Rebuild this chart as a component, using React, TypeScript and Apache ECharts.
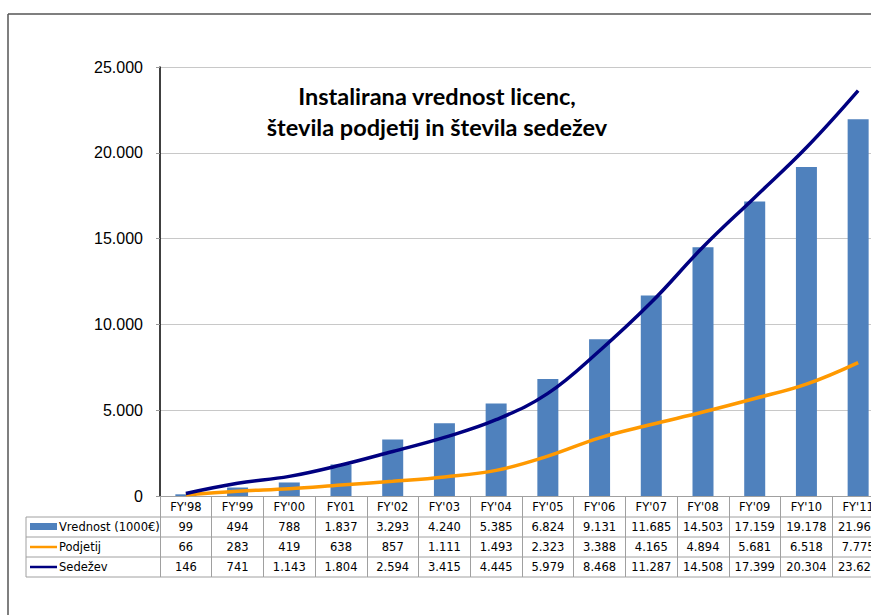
import React, { useEffect, useRef } from "react";
import * as echarts from "echarts";

const categories = ["FY'98", "FY'99", "FY'00", "FY01", "FY'02", "FY'03", "FY'04", "FY'05", "FY'06", "FY'07", "FY'08", "FY'09", "FY'10", "FY'11"];
const seriesNames = ["Vrednost (1000€)", "Podjetij", "Sedežev"];
const vrednost = [99, 494, 788, 1837, 3293, 4240, 5385, 6824, 9131, 11685, 14503, 17159, 19178, 21960];
const podjetij = [66, 283, 419, 638, 857, 1111, 1493, 2323, 3388, 4165, 4894, 5681, 6518, 7775];
const sedezev = [146, 741, 1143, 1804, 2594, 3415, 4445, 5979, 8468, 11287, 14508, 17399, 20304, 23620];
const yTicks = [0, 5000, 10000, 15000, 20000, 25000];
const titleLines = ["Instalirana vrednost licenc,", "števila podjetij in števila sedežev"];

const BLUE = "#4F81BD";
const ORANGE = "#FF9900";
const NAVY = "#000080";
const BORDER = "#A0A0A0";
const TFONT = '"DejaVu Sans", Verdana, sans-serif';
const TSIZE = 11.5;

const fmt = (n: number) => String(n).replace(/\B(?=(\d{3})+(?!\d))/g, ".");

export default function App() {
  const ref = useRef<HTMLDivElement>(null);
  useEffect(() => {
    if (!ref.current) return;
    const chart = echarts.init(ref.current, undefined, { renderer: "svg" });
    const rows = [vrednost, podjetij, sedezev];
    const legendX0 = 26;
    const legendX1 = 160;
    const tableTop = 517;
    const rowH = 20;
    const g: any[] = [];
    for (let r = 0; r <= 3; r++) {
      g.push({
        type: "line",
        shape: { x1: legendX0, y1: tableTop + r * rowH, x2: legendX1, y2: tableTop + r * rowH },
        style: { stroke: BORDER, lineWidth: 1 },
        silent: true,
      });
    }
    g.push({
      type: "line",
      shape: { x1: legendX0, y1: tableTop, x2: legendX0, y2: tableTop + 3 * rowH },
      style: { stroke: BORDER, lineWidth: 1 },
    });
    g.push({ type: "rect", shape: { x: 30, y: 523, width: 27, height: 7 }, style: { fill: BLUE } });
    g.push({ type: "line", shape: { x1: 30, y1: 547, x2: 57, y2: 547 }, style: { stroke: ORANGE, lineWidth: 2.5 } });
    g.push({ type: "line", shape: { x1: 30, y1: 567, x2: 57, y2: 567 }, style: { stroke: NAVY, lineWidth: 2.5 } });
    seriesNames.forEach((n, r) => {
      g.push({
        type: "text",
        x: 59,
        y: tableTop + r * rowH + rowH / 2,
        style: { text: n, fontSize: TSIZE, fontFamily: TFONT, fill: "#000", verticalAlign: "middle", align: "left" },
      });
    });
    g.push({ type: "line", shape: { x1: 8, y1: 14, x2: 871, y2: 14 }, style: { stroke: "#555", lineWidth: 1.5 } });
    g.push({ type: "line", shape: { x1: 8, y1: 14, x2: 8, y2: 615 }, style: { stroke: "#555", lineWidth: 1.5 } });
    g.push({
      type: "text",
      x: 437,
      y: 80,
      z: 10,
      style: {
        text: titleLines.join("\n"),
        fontSize: 23.5,
        fontWeight: "bold",
        fontFamily: 'Lato, "Liberation Sans", Arial, sans-serif',
        fill: "#000",
        align: "center",
        lineHeight: 31,
      },
    });

    chart.setOption({
      animation: false,
      grid: { left: 160, top: 67, width: 724, height: 429, containLabel: false, outerBoundsMode: "none" },
      graphic: g,
      xAxis: {
        type: "category",
        data: categories,
        boundaryGap: true,
        axisLine: { lineStyle: { color: BORDER, width: 1 } },
        axisTick: { show: true, interval: 0, length: 81, lineStyle: { color: BORDER, width: 1 } },
        axisLabel: { interval: 0, margin: 5, fontSize: TSIZE, fontFamily: TFONT, color: "#000" },
      },
      yAxis: {
        type: "value",
        min: 0,
        max: 25000,
        interval: 5000,
        axisLine: { show: true, lineStyle: { color: "#000", width: 1.5 } },
        axisTick: { show: true, length: 4, lineStyle: { color: "#999" } },
        splitLine: { lineStyle: { color: "#C8C8C8", width: 1 } },
        axisLabel: {
          margin: 17,
          fontSize: 16,
          fontFamily: '"Liberation Sans", Arial, sans-serif',
          color: "#000",
          formatter: (v: number) => (yTicks.includes(v) ? fmt(v) : ""),
        },
      },
      series: [
        { name: seriesNames[0], type: "bar", data: vrednost, barWidth: 21, itemStyle: { color: BLUE }, z: 2 },
        { name: seriesNames[1], type: "line", data: podjetij, smooth: 0.4, symbol: "none", lineStyle: { color: ORANGE, width: 3.5 }, z: 3 },
        { name: seriesNames[2], type: "line", data: sedezev, smooth: 0.4, symbol: "none", lineStyle: { color: NAVY, width: 3.5 }, z: 4 },
        {
          type: "custom",
          silent: true,
          clip: false,
          z: 5,
          data: categories.map((_, i) => [i, 0]),
          encode: { x: 0, y: 1 },
          renderItem: (params: any, api: any) => {
            const i = api.value(0);
            const [cx, y0] = api.coord([i, 0]);
            const w = api.size([1, 0])[0];
            const children: any[] = [];
            const top0 = y0 + 21;
            children.push({ type: "line", shape: { x1: cx - w / 2, y1: top0, x2: cx + w / 2, y2: top0 }, style: { stroke: BORDER, lineWidth: 1 } });
            rows.forEach((vals, r) => {
              const top = top0 + r * rowH;
              children.push({
                type: "line",
                shape: { x1: cx - w / 2, y1: top + rowH, x2: cx + w / 2, y2: top + rowH },
                style: { stroke: BORDER, lineWidth: 1 },
              });
              children.push({
                type: "text",
                x: cx,
                y: top + rowH / 2,
                style: { text: fmt(vals[i]), fontSize: TSIZE, fontFamily: TFONT, fill: "#000", align: "center", verticalAlign: "middle" },
              });
            });
            return { type: "group", children };
          },
        },
      ],
    });
    return () => chart.dispose();
  }, []);
  return (
    <div
      ref={ref}
      style={{ position: "absolute", left: 0, top: 0, width: 871, height: 615, background: "#fff" }}
    />
  );
}
